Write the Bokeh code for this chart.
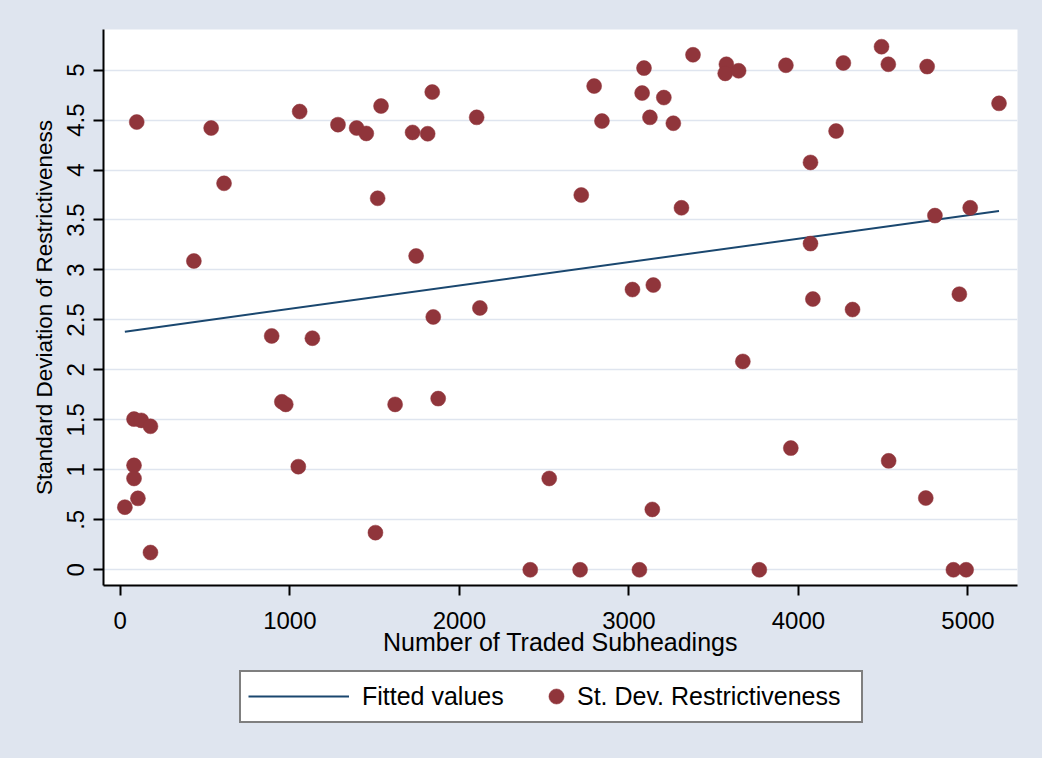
from bokeh.plotting import figure
from bokeh.models import Legend, LegendItem, FixedTicker, Range1d, InlineStyleSheet
from bokeh.layouts import column
from bokeh.embed import file_html
from bokeh.resources import INLINE

# ---- data ----
subheadings = [97, 536, 1058, 1284, 1394, 1451, 1538, 1840, 1724, 1813, 2102, 612, 1518, 434, 1745, 1846, 2121,
               3089, 2795, 3078, 3206, 2841, 3124, 3262, 3378, 3575, 3568, 3647, 3926, 4265, 4490, 4530, 4759,
               5183, 4222, 4071, 2719, 3310, 4805, 5013, 4071, 3021, 3144, 4085, 4319, 4949,
               893, 1133, 81, 124, 178, 81, 81, 104, 27, 178, 953, 976, 1050, 1621, 1875, 1505, 2418, 2530,
               2712, 3062, 3769, 4914, 4989, 3138, 3672, 3955, 4532, 4751]
sd_restrictiveness = [4.48, 4.42, 4.585, 4.454, 4.42, 4.366, 4.64, 4.78, 4.376, 4.363, 4.527, 3.867, 3.717, 3.09, 3.14, 2.53, 2.62,
                      5.02, 4.84, 4.77, 4.725, 4.49, 4.527, 4.468, 5.153, 5.058, 4.967, 4.993, 5.048, 5.071, 5.234, 5.058, 5.035,
                      4.667, 4.39, 4.076, 3.75, 3.622, 3.544, 3.622, 3.264, 2.804, 2.849, 2.709, 2.604, 2.758,
                      2.34, 2.317, 1.508, 1.495, 1.436, 1.045, 0.914, 0.715, 0.627, 0.173, 1.681, 1.655, 1.032, 1.655, 1.713, 0.372, 0.0, 0.914,
                      0.0, 0.0, 0.0, 0.0, 0.0, 0.604, 2.085, 1.218, 1.09, 0.718]
fitted_x = [27, 5183]
fitted_y = [2.383, 3.59]

x_ticks = [0, 1000, 2000, 3000, 4000, 5000]
x_tick_labels = ["0", "1000", "2000", "3000", "4000", "5000"]
y_ticks = [0, 0.5, 1, 1.5, 2, 2.5, 3, 3.5, 4, 4.5, 5]
y_tick_labels = ["0", ".5", "1", "1.5", "2", "2.5", "3", "3.5", "4", "4.5", "5"]

# ---- style ----
BG = "#DFE5EF"
NAVY = "#1A476F"
MAROON = "#90353B"
FONT = "Liberation Sans"

p = figure(width=1042, height=668, output_backend="svg", toolbar_location=None,
           x_range=Range1d(-99, 5292), y_range=Range1d(-0.157, 5.406),
           min_border_left=103, min_border_right=25, min_border_top=29, min_border_bottom=83)
p.background_fill_color = "white"
p.border_fill_color = BG
p.outline_line_color = None

line_r = p.line(fitted_x, fitted_y, line_color=NAVY, line_width=2)
sc_r = p.scatter(subheadings, sd_restrictiveness, size=15, marker="circle",
                 fill_color=MAROON, line_color=MAROON, line_width=0.5)

p.xgrid.visible = False
p.ygrid.grid_line_color = BG
p.ygrid.grid_line_width = 1.5

p.xaxis.ticker = FixedTicker(ticks=x_ticks)
p.xaxis.major_label_overrides = dict(zip(x_ticks, x_tick_labels))
p.yaxis.ticker = FixedTicker(ticks=y_ticks)
p.yaxis.major_label_overrides = dict(zip(y_ticks, y_tick_labels))
p.yaxis.major_label_orientation = "vertical"

for ax in (p.xaxis, p.yaxis):
    ax.axis_line_color = "black"
    ax.axis_line_width = 2
    ax.major_tick_line_color = "black"
    ax.major_tick_line_width = 2
    ax.major_tick_in = 0
    ax.major_tick_out = 10
    ax.minor_tick_line_color = None
    ax.major_label_text_font = FONT
    ax.major_label_text_font_size = "24px"
    ax.major_label_text_color = "black"
    ax.axis_label_text_font = FONT
    ax.axis_label_text_font_style = "normal"
    ax.axis_label_text_color = "black"

p.xaxis.major_label_standoff = 16
p.yaxis.major_label_standoff = 9
p.xaxis.axis_label = "Number of Traded Subheadings"
p.yaxis.axis_label = "Standard Deviation of Restrictiveness"
p.xaxis.axis_label_text_font_size = "25px"
p.yaxis.axis_label_text_font_size = "22.5px"
p.xaxis.axis_label_standoff = -4
p.yaxis.axis_label_standoff = 8

# ---- legend strip below the plot ----
leg = figure(width=1042, height=90, output_backend="svg", toolbar_location=None,
             x_axis_type=None, y_axis_type=None, x_range=Range1d(0, 1), y_range=Range1d(0, 1),
             min_border_left=103, min_border_right=25, min_border_top=0, min_border_bottom=0)
leg.background_fill_color = BG
leg.border_fill_color = BG
leg.outline_line_color = None
leg.grid.visible = False

# same series as above; they fall outside this strip's ranges, so only their legend keys show
leg_line = leg.line(fitted_x, fitted_y, line_color=NAVY, line_width=2)
leg_dot = leg.scatter(subheadings, sd_restrictiveness, marker="circle",
                      fill_color=MAROON, line_color=MAROON, line_width=0.5)

FL = 103  # frame left of the strip
common = dict(padding=0, margin=0, spacing=0, label_text_font=FONT, label_text_font_size="25px",
              label_text_color="black")
leg_box = Legend(items=[LegendItem(label=" ", renderers=[])], location=(239 - FL, 35),
                 glyph_width=600, glyph_height=49, label_standoff=0, label_width=20, label_height=20,
                 border_line_color="black", border_line_width=2,
                 background_fill_color="white", background_fill_alpha=1, **common)
leg_a = Legend(items=[LegendItem(label="Fitted values", renderers=[leg_line])],
               location=(248 - FL, 40), glyph_width=101, glyph_height=44,
               label_standoff=13, border_line_alpha=0, background_fill_alpha=0, **common)
leg_b = Legend(items=[LegendItem(label="St. Dev. Restrictiveness", renderers=[leg_dot])],
               location=(537 - FL, 43), glyph_width=38, glyph_height=38,
               label_standoff=2, border_line_alpha=0, background_fill_alpha=0, **common)
leg.add_layout(leg_box)
leg.add_layout(leg_a)
leg.add_layout(leg_b)

layout = column(p, leg, spacing=0,
                stylesheets=[InlineStyleSheet(css=":host { background-color: %s; }" % BG)])
open("out.html", "w").write(file_html(layout, INLINE))
